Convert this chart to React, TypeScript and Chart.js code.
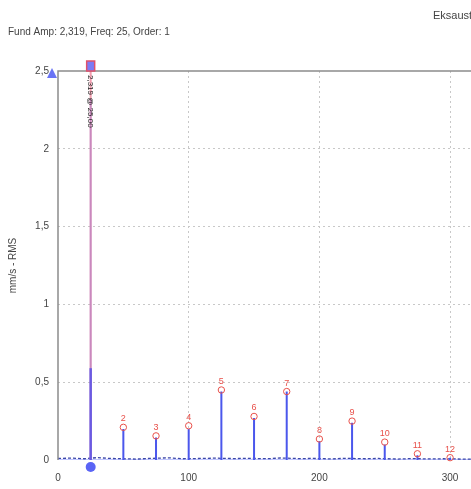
import React, { useEffect, useRef } from "react";
import { Chart, registerables } from "chart.js";

Chart.register(...registerables);

const titleText = "Fund Amp: 2,319, Freq: 25, Order: 1";
const cornerText = "Eksaust";
const yAxisTitle = "mm/s - RMS";
const cursorText = "2,319 @ 25,00";

const fundamentalFreq = 25;
const fundamentalAmp = 2.319;
const fundamentalCoreAmp = 0.59;

const harmonicOrders = [2, 3, 4, 5, 6, 7, 8, 9, 10, 11, 12];
const harmonicFreqs = [50, 75, 100, 125, 150, 175, 200, 225, 250, 275, 300];
const harmonicAmps = [0.21, 0.155, 0.22, 0.45, 0.28, 0.44, 0.135, 0.25, 0.115, 0.04, 0.015];
const peakAmps = [0.2, 0.145, 0.2, 0.44, 0.27, 0.44, 0.12, 0.24, 0.1, 0.03, 0.015];

const noiseFreqs = [0, 10, 20, 30, 40, 60, 70, 85, 95, 110, 120, 135, 145, 160, 170, 185, 195, 210, 220, 235, 245, 260, 270, 285, 295, 310, 316];
const noiseAmps = [0.01, 0.012, 0.008, 0.015, 0.01, 0.006, 0.01, 0.014, 0.008, 0.01, 0.012, 0.009, 0.011, 0.008, 0.013, 0.009, 0.01, 0.007, 0.011, 0.008, 0.01, 0.006, 0.009, 0.007, 0.008, 0.006, 0.006];

const xTicks = [0, 100, 200, 300];
const yTicks = [0, 0.5, 1, 1.5, 2, 2.5];
const xMax = 316;
const yMax = 2.5;

const FONT = "'Liberation Sans', Arial, sans-serif";

function buildPeaks(freqs: number[], amps: number[]) {
  const pts: any[] = [];
  freqs.forEach((f, i) => {
    pts.push({ x: f, y: 0 });
    pts.push({ x: f, y: amps[i] });
    pts.push({ x: f, y: null });
  });
  return pts;
}

const overlayPlugin = {
  id: "overlay",
  afterDraw(chart: any) {
    const { ctx, chartArea, scales } = chart;
    const xs = scales.x;
    const ys = scales.y;
    ctx.save();
    ctx.setLineDash([]);
    ctx.strokeStyle = "#8c8c8c";
    ctx.lineWidth = 1.5;
    ctx.beginPath();
    ctx.moveTo(chartArea.left, chartArea.bottom);
    ctx.lineTo(chartArea.left, chartArea.top);
    ctx.lineTo(chart.width, chartArea.top);
    ctx.stroke();

    // harmonic markers
    ctx.strokeStyle = "#e8504a";
    ctx.fillStyle = "#e8504a";
    ctx.lineWidth = 1;
    ctx.font = `9px ${FONT}`;
    ctx.textAlign = "center";
    ctx.textBaseline = "bottom";
    harmonicFreqs.forEach((f, i) => {
      const px = xs.getPixelForValue(f);
      const py = ys.getPixelForValue(harmonicAmps[i]);
      ctx.beginPath();
      ctx.arc(px, py, 3.2, 0, Math.PI * 2);
      ctx.stroke();
      ctx.fillText(String(harmonicOrders[i]), px, py - 4);
    });

    const cx = xs.getPixelForValue(fundamentalFreq);
    ctx.fillStyle = "#7b7bf5";
    ctx.strokeStyle = "#e0506a";
    ctx.lineWidth = 1.5;
    ctx.fillRect(cx - 4, chartArea.top - 10, 8, 10);
    ctx.strokeRect(cx - 4, chartArea.top - 10, 8, 10);

    ctx.save();
    ctx.translate(cx, chartArea.top + 4);
    ctx.rotate(Math.PI / 2);
    ctx.fillStyle = "#222";
    ctx.font = `8px ${FONT}`;
    ctx.textAlign = "left";
    ctx.textBaseline = "middle";
    ctx.fillText(cursorText, 0, 0);
    ctx.restore();

    ctx.fillStyle = "#5a64f5";
    ctx.beginPath();
    ctx.arc(cx, chartArea.bottom + 7, 5, 0, Math.PI * 2);
    ctx.fill();

    ctx.fillStyle = "#6a74f5";
    ctx.beginPath();
    const tx = chartArea.left - 6;
    const ty = chartArea.top + 2;
    ctx.moveTo(tx - 5, ty + 5);
    ctx.lineTo(tx + 5, ty + 5);
    ctx.lineTo(tx, ty - 5);
    ctx.closePath();
    ctx.fill();

    ctx.fillStyle = "#444";
    ctx.font = `10px ${FONT}`;
    ctx.textAlign = "left";
    ctx.textBaseline = "middle";
    ctx.fillText(titleText, 8, 32);
    ctx.font = `11px ${FONT}`;
    ctx.fillText(cornerText, 433, 16);
    ctx.restore();
  },
};

export default function App() {
  const ref = useRef<HTMLCanvasElement | null>(null);
  useEffect(() => {
    if (!ref.current) return;
    const chart = new Chart(ref.current, {
      type: "line",
      data: {
        datasets: [
          {
            label: "harmonics",
            data: buildPeaks(harmonicFreqs, peakAmps),
            borderColor: "#4b57ec",
            borderWidth: 2,
            pointRadius: 0,
            spanGaps: false,
          },
          {
            label: "fundamentalCore",
            data: buildPeaks([fundamentalFreq], [fundamentalCoreAmp]),
            borderColor: "rgba(95,85,230,0.9)",
            borderWidth: 2.5,
            pointRadius: 0,
            spanGaps: false,
          },
          {
            label: "fundamental",
            data: buildPeaks([fundamentalFreq], [fundamentalAmp]),
            borderColor: "rgba(150,110,210,0.45)",
            borderWidth: 2,
            pointRadius: 0,
            spanGaps: false,
          },
          {
            label: "cursor",
            data: [{ x: fundamentalFreq, y: 0 }, { x: fundamentalFreq, y: yMax }],
            borderColor: "rgba(240,140,160,0.85)",
            borderWidth: 2,
            pointRadius: 0,
          },
          {
            label: "noise",
            data: noiseFreqs.map((f, i) => ({ x: f, y: noiseAmps[i] })),
            borderColor: "#3b46a8",
            borderWidth: 1.3,
            borderDash: [3, 2],
            pointRadius: 0,
          },
          {
            label: "baseline",
            data: [{ x: 0, y: 0 }, { x: xMax, y: 0 }],
            borderColor: "#aab2ff",
            borderWidth: 1.5,
            pointRadius: 0,
          },
        ],
      },
      options: {
        animation: false,
        responsive: false,
        maintainAspectRatio: false,
        layout: { padding: { top: 71, left: 0, right: 0, bottom: 0 } },
        plugins: {
          legend: { display: false },
          tooltip: { enabled: false },
          title: { display: false },
        },
        scales: {
          x: {
            type: "linear",
            min: 0,
            max: xMax,
            afterFit: (s: any) => {
              s.height = 29;
            },
            afterBuildTicks: (s: any) => {
              s.ticks = xTicks.map((v) => ({ value: v }));
            },
            ticks: {
              padding: 12,
              color: "#444",
              font: { family: FONT, size: 10 },
              maxRotation: 0,
              callback: (v: any) => String(v),
            },
            grid: {
              drawTicks: false,
              lineWidth: 1,
              color: (c: any) => (c.tick && c.tick.value === 0 ? "rgba(0,0,0,0)" : "#c8c8c8"),
            },
            border: { display: false, dash: [2, 3] },
          },
          y: {
            type: "linear",
            min: 0,
            max: yMax,
            afterFit: (s: any) => {
              s.width = 58;
            },
            afterBuildTicks: (s: any) => {
              s.ticks = yTicks.map((v) => ({ value: v }));
            },
            ticks: {
              padding: 9,
              color: "#444",
              font: { family: FONT, size: 10 },
              callback: (v: any) => String(v).replace(".", ","),
            },
            title: {
              display: true,
              text: yAxisTitle,
              color: "#444",
              font: { family: FONT, size: 10 },
              padding: { top: 7, bottom: 0 },
            },
            grid: {
              drawTicks: false,
              lineWidth: 1,
              color: (c: any) =>
                c.tick && (c.tick.value === 0 || c.tick.value === yMax) ? "rgba(0,0,0,0)" : "#c8c8c8",
            },
            border: { display: false, dash: [2, 3] },
          },
        },
      },
      plugins: [overlayPlugin],
    } as any);
    return () => chart.destroy();
  }, []);
  return (
    <div style={{ position: "absolute", left: 0, top: 0, width: 471, height: 489, background: "#fff" }}>
      <canvas ref={ref} width={471} height={489} style={{ display: "block", width: 471, height: 489 }} />
    </div>
  );
}
